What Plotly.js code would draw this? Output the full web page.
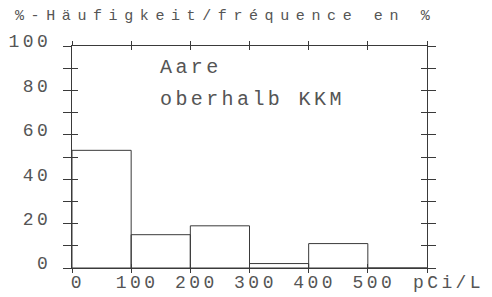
<!DOCTYPE html>
<html>
<head>
<meta charset="utf-8">
<script src="https://cdn.plot.ly/plotly-3.0.1.min.js"></script>
<style>
  html, body { margin: 0; padding: 0; background: #fff; }
  #chart { width: 492px; height: 297px; }
  .xtick text, .ytick text { letter-spacing: 3.5px; }
  .gtitle { letter-spacing: 6.6px; }
  .annotation-text { letter-spacing: 3.4px; }
</style>
</head>
<body>
<div id="chart"></div>
<script>
// Data
const binCenters = [50, 150, 250, 350, 450, 550];   // pCi/L, bins of 100
const binWidth = [100, 100, 100, 100, 100, 100];
const frequency = [53, 15, 19, 2, 11, 0];           // %
const xTickVals = [0, 100, 200, 300, 400, 500, 600];
const xTickText = ['0', '100', '200', '300', '400', '500', ''];
const yTickVals = [0, 10, 20, 30, 40, 50, 60, 70, 80, 90, 100];
const yTickText = ['0', '', '20', '', '40', '', '60', '', '80', '', '100'];
const titleText = '%-Häufigkeit/fréquence en %';
const labelLine1 = 'Aare';
const labelLine2 = 'oberhalb KKM';
const unitText = 'pCi/L';

const ink = '#3a3a3a';
const txt = '#555';
const fontFam = '"Liberation Mono", "DejaVu Sans Mono", monospace';

const traces = [
  {
    type: 'bar',
    x: binCenters,
    y: frequency,
    width: binWidth,
    marker: { color: 'rgba(0,0,0,0)', line: { color: ink, width: 1 } },
    hoverinfo: 'skip',
    xaxis: 'x', yaxis: 'y'
  },
  {
    type: 'scatter',
    mode: 'none',
    x: binCenters,
    y: frequency,
    hoverinfo: 'skip',
    xaxis: 'x2', yaxis: 'y2',
    showlegend: false
  }
];

const axisCommon = {
  showgrid: false,
  zeroline: false,
  fixedrange: true
};

const layout = {
  width: 492,
  height: 297,
  margin: { l: 72, r: 65, t: 46, b: 29, pad: 0 },
  paper_bgcolor: '#fff',
  plot_bgcolor: '#fff',
  showlegend: false,
  bargap: 0,
  font: { family: fontFam, color: txt, size: 18 },
  title: {
    text: titleText,
    font: { family: fontFam, size: 15, color: txt },
    xref: 'container', yref: 'container',
    x: 15 / 492, xanchor: 'left',
    y: 1 - 15 / 297, yanchor: 'middle'
  },
  xaxis: Object.assign({}, axisCommon, {
    range: [0, 600],
    tickmode: 'array',
    tickvals: xTickVals,
    ticktext: xTickText,
    ticks: 'outside',
    ticklen: 4,
    tickwidth: 1,
    tickcolor: ink,
    mirror: 'ticks',
    showline: true,
    linecolor: ink,
    linewidth: 1,
    ticklabelshift: 6,
    ticklabelstandoff: -7,
    tickfont: { family: fontFam, size: 18, color: txt }
  }),
  yaxis: Object.assign({}, axisCommon, {
    range: [0, 100],
    tickmode: 'array',
    tickvals: yTickVals,
    ticktext: yTickText,
    ticks: 'outside',
    ticklen: 8,
    tickwidth: 1,
    tickcolor: ink,
    mirror: 'ticks',
    showline: true,
    linecolor: ink,
    linewidth: 1,
    ticklabelshift: -5,
    ticklabelstandoff: 8,
    tickfont: { family: fontFam, size: 18, color: txt }
  }),
  xaxis2: Object.assign({}, axisCommon, {
    overlaying: 'x',
    anchor: 'y2',
    range: [0, 600],
    tickmode: 'array',
    tickvals: xTickVals,
    ticks: 'inside',
    ticklen: 4,
    tickwidth: 1,
    tickcolor: ink,
    mirror: 'ticks',
    showline: false,
    showticklabels: false
  }),
  yaxis2: Object.assign({}, axisCommon, {
    overlaying: 'y',
    anchor: 'x2',
    range: [0, 100],
    tickmode: 'array',
    tickvals: yTickVals,
    ticks: 'inside',
    ticklen: 6,
    tickwidth: 1,
    tickcolor: ink,
    mirror: 'ticks',
    showline: false,
    showticklabels: false
  }),
  annotations: [
    {
      text: labelLine1, xref: 'x', yref: 'y', x: 145, y: 90.5,
      xanchor: 'left', yanchor: 'middle', showarrow: false,
      font: { family: fontFam, size: 20, color: txt }
    },
    {
      text: labelLine2, xref: 'x', yref: 'y', x: 145, y: 76,
      xanchor: 'left', yanchor: 'middle', showarrow: false,
      font: { family: fontFam, size: 20, color: txt }
    },
    {
      text: unitText, xref: 'paper', yref: 'paper', x: (448 - 72) / 355, y: -0.068,
      xanchor: 'center', yanchor: 'middle', showarrow: false,
      font: { family: fontFam, size: 18, color: txt }
    }
  ]
};

Plotly.newPlot('chart', traces, layout, { displayModeBar: false, staticPlot: true });
</script>
</body>
</html>
